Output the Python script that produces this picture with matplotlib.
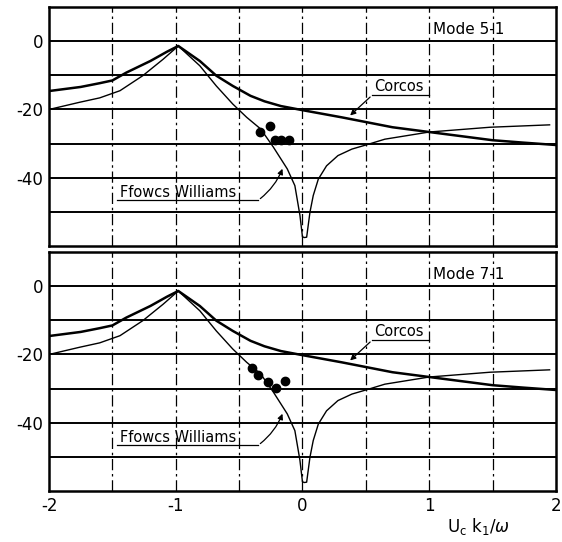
import numpy as np
import matplotlib.pyplot as plt

plt.rcParams['font.family'] = ['DejaVu Sans']
plt.rcParams['axes.unicode_minus'] = False

# Corcos model (thick line)
corcos_x = [-2.0, -1.75, -1.6, -1.5, -1.39, -1.2, -1.07, -0.98, -0.81, -0.68, -0.55, -0.41, -0.3, -0.17,
            0.0, 0.31, 0.71, 1.0, 1.5, 1.74, 2.0]
corcos_y = [-14.6, -13.4, -12.3, -11.5, -9.2, -5.8, -3.1, -1.4, -5.8, -10.1, -13.1, -16.0, -17.6, -19.0,
            -20.2, -22.3, -25.2, -26.6, -29.0, -29.7, -30.4]

# Ffowcs Williams model (thin line)
fw_x = [-2.0, -1.76, -1.6, -1.44, -1.26, -1.1, -0.98, -0.81, -0.68, -0.55, -0.44, -0.33, -0.23, -0.12,
        -0.06, -0.02, 0.0, 0.015, 0.033, 0.059, 0.085, 0.125, 0.19, 0.28, 0.39, 0.50, 0.65, 1.0, 1.48, 1.95]
fw_y = [-20.0, -17.9, -16.6, -14.5, -10.1, -5.3, -1.4, -7.2, -13.1, -18.4, -22.3, -25.7, -31.0, -37.4,
        -42.3, -51.0, -57.3, -57.5, -57.4, -50.1, -45.2, -40.4, -36.5, -33.5, -31.6, -30.4, -28.7, -26.6,
        -25.2, -24.5]

# measured points
m51_x = [-0.333, -0.26, -0.214, -0.169, -0.103]
m51_y = [-26.7, -24.9, -28.9, -28.9, -28.9]
m71_x = [-0.40, -0.347, -0.272, -0.206, -0.14]
m71_y = [-24.0, -25.9, -28.2, -29.9, -27.9]

modes = ["Mode 5-1", "Mode 7-1"]
xticks = [-2, -1, 0, 1, 2]
xticklabels = ["-2", "-1", "0", "1", "2"]
yticks = [0, -20, -40]
ytick_labels = ["0", "-20", "-40"]

fig = plt.figure(figsize=(5.62, 5.42), dpi=100)
ax1 = fig.add_axes([0.0872, 0.546, 0.902, 0.441])
ax2 = fig.add_axes([0.0872, 0.094, 0.902, 0.441])

for ax, mode, mx, my in [(ax1, modes[0], m51_x, m51_y), (ax2, modes[1], m71_x, m71_y)]:
    ax.set_xlim(-2, 2)
    ax.set_ylim(-60, 10)
    for yv in [0, -10, -20, -30, -40, -50]:
        ax.axhline(yv, color='black', lw=1.4, zorder=1)
    for xv in [-1.5, -1, -0.5, 0, 0.5, 1, 1.5]:
        ax.axvline(xv, color='black', lw=0.9, ls=(0, (9, 3, 2, 3)), zorder=1)
    ax.plot(corcos_x, corcos_y, color='black', lw=1.8, zorder=3)
    ax.plot(fw_x, fw_y, color='black', lw=1.0, zorder=3)
    ax.plot(mx, my, 'o', color='black', ms=6, zorder=4)

    ax.text(1.03, 3.5, mode, fontsize=11, ha='left', va='center', zorder=5)

    # Corcos label
    ax.text(0.565, -13.3, "Corcos", fontsize=10.5, ha='left', va='center', zorder=5)
    ax.plot([0.55, 1.0], [-15.8, -15.8], color='black', lw=0.9, zorder=5)
    ax.annotate("", xy=(0.36, -22.3), xytext=(0.55, -15.8),
                arrowprops=dict(arrowstyle='-|>', color='black', lw=0.9, mutation_scale=8), zorder=5)

    # Ffowcs Williams label
    ax.text(-1.44, -44.2, "Ffowcs Williams", fontsize=10.5, ha='left', va='center', zorder=5)
    ax.plot([-1.46, -0.35], [-46.6, -46.6], color='black', lw=0.9, zorder=5)
    ax.annotate("", xy=(-0.15, -36.6), xytext=(-0.35, -46.6),
                arrowprops=dict(arrowstyle='-|>', color='black', lw=0.9, mutation_scale=8,
                                connectionstyle='arc3,rad=0.15'), zorder=5)

    ax.set_yticks(yticks)
    ax.set_yticklabels(ytick_labels, fontsize=12)
    ax.set_xticks(xticks)
    ax.tick_params(length=0, pad=4)
    for s in ax.spines.values():
        s.set_linewidth(1.8)

ax1.set_xticklabels([])
ax2.set_xticklabels(xticklabels, fontsize=12)
ax2.text(0.848, -0.15, r"U$_\mathrm{c}$ k$_\mathrm{1}$/$\omega$", transform=ax2.transAxes,
         fontsize=12, ha='center', va='center')

fig.savefig("out.png", dpi=100)
